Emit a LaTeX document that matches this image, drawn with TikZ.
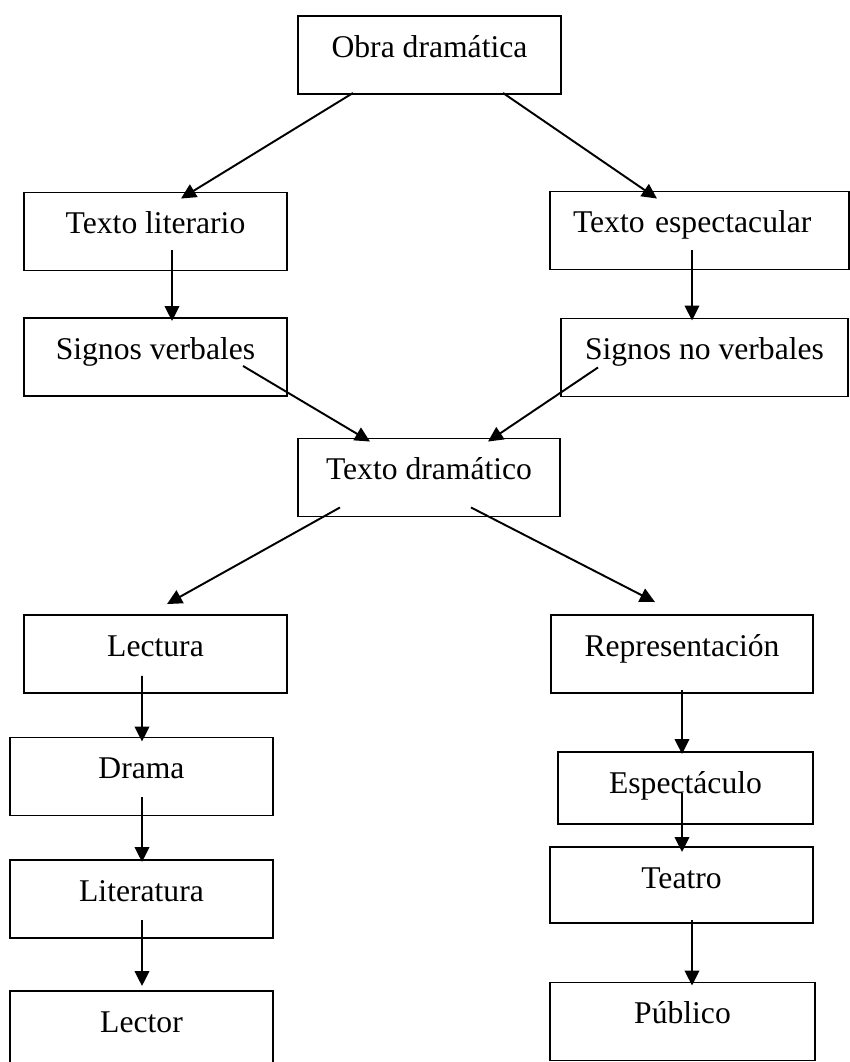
\documentclass[tikz,border=0pt]{standalone}
\usepackage{fontspec}
\setmainfont{Liberation Serif}
\usetikzlibrary{arrows.meta,positioning,calc}

\begin{document}
\begin{tikzpicture}[x=0.2mm, y=-0.2mm,
    caja/.style={draw, line width=1.1pt, inner xsep=0pt, inner ysep=0pt,
      minimum width=52.6mm, text height=8.2mm, text depth=7.4mm,
      font=\fontsize{18}{21}\selectfont},
    flecha/.style={-{Triangle[length=3mm,width=2.9mm]}, line width=1.1pt}]
  \useasboundingbox (0,0) rectangle (850,1062);

  % fila de arriba
  \node[caja] (obra) at (429.5,55) {Obra dramática};
  \node[caja] (tlit) at (155.5,231.5) {Texto literario};
  \node[caja, text width=50.6mm, align=left, inner xsep=4.6mm]
    (tesp) at (699.5,230.5) {Texto espectacular};
  \node[caja] (sverb) at (155.5,357) {Signos verbales};
  \node[caja, minimum width=57.4mm] (snoverb) at (704.5,357.5) {Signos no verbales};
  \node[caja, minimum width=52.4mm] (tdram) at (429,477.5) {Texto dramático};

  % rama izquierda
  \node[caja] (lect) at (155.5,654) {Lectura};
  \node[caja] (drama) at (141.5,776.5) {Drama};
  \node[caja] (liter) at (141.5,899) {Literatura};
  \node[caja] (lector) at (141.5,1030) {Lector};

  % rama derecha
  \node[caja, minimum width=52.4mm] (repr) at (682,654) {Representación};
  \node[caja, minimum width=51mm, text depth=6.2mm] (espect) at (685.5,788) {Espectáculo};
  \node[caja, text depth=7mm] (teatro) at (681.5,885) {Teatro};
  \node[caja, minimum width=53mm] (publico) at (682.5,1021.5) {Público};

  \draw[flecha] ($(obra.south)+(-76.5,-2)$) -- ($(tlit.north)+(25.5,7)$);
  \draw[flecha] ($(obra.south)+(73.5,-2)$) -- ($(tesp.north)+(-42.5,8)$);
  \draw[flecha] ($(tlit.south)+(16.5,-21)$) -- ($(sverb.north)+(16.5,4)$);
  \draw[flecha] ($(tesp.south)+(-7.5,-20)$) -- ($(snoverb.north)+(-12.5,3)$);
  \draw[flecha] ($(sverb.south)+(87.5,-31)$) -- ($(tdram.north)+(-59,4)$);
  \draw[flecha] ($(snoverb.south)+(-106.5,-30)$) -- ($(tdram.north)+(59,4)$);
  \draw[flecha] ($(tdram.south)+(-89,-10)$) -- ($(lect.north)+(11.5,-10)$);
  \draw[flecha] ($(tdram.south)+(42,-10)$) -- ($(repr.north)+(-27,-12)$);
  \draw[flecha] ($(lect.south)+(-13.5,-18)$) -- ($(drama.north)+(0.5,5)$);
  \draw[flecha] ($(drama.south)+(0.5,-19)$) -- ($(liter.north)+(0.5,3)$);
  \draw[flecha] ($(liter.south)+(0.5,-19)$) -- ($(lector.north)+(0.5,-4)$);
  \draw[flecha] ($(repr.south)+(0,-4)$) -- ($(espect.north)+(-3.5,3)$);
  \draw[flecha] ($(espect.south)+(-3.5,-32)$) -- ($(teatro.north)+(0.5,6)$);
  \draw[flecha] ($(teatro.south)+(10.5,-4)$) -- ($(publico.north)+(9.5,4)$);
\end{tikzpicture}
\end{document}
